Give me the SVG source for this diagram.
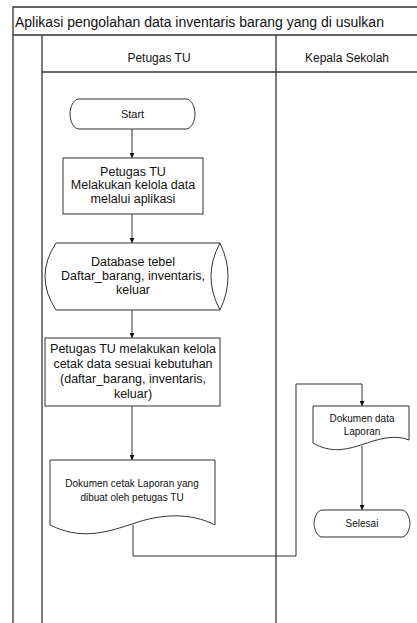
<svg xmlns="http://www.w3.org/2000/svg" width="417" height="623" viewBox="0 0 417 623">
<style>
  text { font-family: "Liberation Sans", Arial, sans-serif; fill: #111; text-anchor: middle; }
  .frame { stroke: #333; stroke-width: 1.3; fill: none; }
  .shape { stroke: #333; stroke-width: 1; fill: #fff; }
  .conn { stroke: #333; stroke-width: 1; fill: none; }
  .box { font-size: 12.5px; }
  .doc { font-size: 10px; }
  .hdr { font-size: 12px; }
</style>
<defs>
  <marker id="arrow" viewBox="0 0 10 10" refX="10" refY="5" markerWidth="5" markerHeight="5" orient="auto" markerUnits="userSpaceOnUse">
    <path d="M0,0 L10,5 L0,10 Z" fill="#111"/>
  </marker>
</defs>
<rect width="417" height="623" fill="#fff"/>
<g id="swimlane">
  <path class="frame" d="M13,623 V7 H417"/>
  <path class="frame" d="M13,35 H417"/>
  <path class="frame" d="M42,35 V623"/>
  <path class="frame" d="M276,35 V623"/>
  <path class="frame" d="M42,72 H417"/>
  <text x="15" y="26.5" style="font-size:14px;text-anchor:start">Aplikasi pengolahan data inventaris barang yang di usulkan</text>
  <text class="hdr" x="159" y="61.5">Petugas TU</text>
  <text class="hdr" x="347" y="61.5">Kepala Sekolah</text>
</g>
<g id="connectors">
  <path class="conn" d="M132,129 V158" marker-end="url(#arrow)"/>
  <path class="conn" d="M132,214 V243" marker-end="url(#arrow)"/>
  <path class="conn" d="M132,310 V338" marker-end="url(#arrow)"/>
  <path class="conn" d="M132,406 V460" marker-end="url(#arrow)"/>
  <path class="conn" d="M133,525 V556 H296 V384 H362 V406" marker-end="url(#arrow)"/>
  <path class="conn" d="M362,446 V510" marker-end="url(#arrow)"/>
</g>
<g id="start">
  <path class="shape" d="M79,99 H186 C192,99 195,108 195,114 C195,120 192,129 186,129 H79 C73,129 70,120 70,114 C70,108 73,99 79,99 Z"/>
  <text x="132.5" y="118" style="font-size:11px">Start</text>
</g>
<g id="proses1">
  <rect class="shape" x="63" y="158" width="140" height="56"/>
  <text class="box" x="133" y="175.5">Petugas TU</text>
  <text class="box" x="133" y="189">Melakukan kelola data</text>
  <text class="box" x="133" y="202.5">melalui aplikasi</text>
</g>
<g id="database">
  <path class="shape" d="M56,243 H220 Q236,276.5 220,310 H56 Q34,276.5 56,243 Z"/>
  <path class="conn" d="M220,243 Q202,276.5 220,310"/>
  <text class="box" x="133" y="265.5">Database tebel</text>
  <text class="box" x="133" y="279.5">Daftar_barang, inventaris,</text>
  <text class="box" x="133" y="293.5">keluar</text>
</g>
<g id="proses2">
  <rect class="shape" x="45" y="338" width="175" height="68"/>
  <text class="box" x="133" y="352.5">Petugas TU melakukan kelola</text>
  <text class="box" x="133" y="367.5">cetak data sesuai kebutuhan</text>
  <text class="box" x="133" y="382.5">(daftar_barang, inventaris,</text>
  <text class="box" x="133" y="397.5">keluar)</text>
</g>
<g id="dokumen-cetak">
  <path class="shape" d="M50,460 H215 V525 C190,512 160,514 132,524 C105,533 80,540 50,525 Z"/>
  <text class="doc" x="132" y="486.5">Dokumen cetak Laporan yang</text>
  <text class="doc" x="132" y="500.5">dibuat oleh petugas TU</text>
</g>
<g id="dokumen-laporan">
  <path class="shape" d="M313,406 H409 V440 C395,434 378,439 361,445 C345,450 330,453 313,443 Z"/>
  <text class="doc" x="362" y="421.5">Dokumen data</text>
  <text class="doc" x="362" y="434.5">Laporan</text>
</g>
<g id="selesai">
  <path class="shape" d="M322,510 H402 C407,510 410,519 410,523.5 C410,528 407,537 402,537 H322 C317,537 314,528 314,523.5 C314,519 317,510 322,510 Z"/>
  <text x="362" y="527" style="font-size:10px">Selesai</text>
</g>
</svg>
